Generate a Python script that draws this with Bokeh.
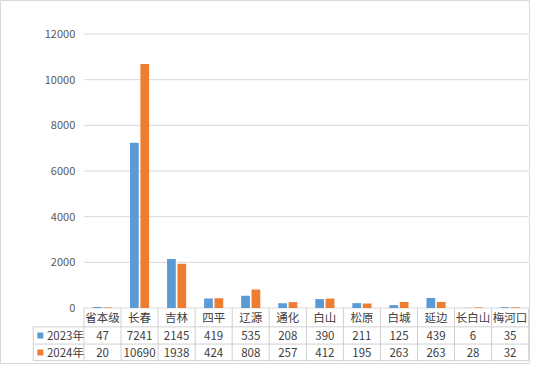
from bokeh.plotting import figure
from bokeh.models import Range1d
from bokeh.core.properties import value
from bokeh.embed import file_html
from bokeh.resources import INLINE

categories = ["省本级", "长春", "吉林", "四平", "辽源", "通化", "白山", "松原", "白城", "延边", "长白山", "梅河口"]
values_2023 = [47, 7241, 2145, 419, 535, 208, 390, 211, 125, 439, 6, 35]
values_2024 = [20, 10690, 1938, 424, 808, 257, 412, 195, 263, 263, 28, 32]
series_names = ["2023年", "2024年"]
y_ticks = [0, 2000, 4000, 6000, 8000, 10000, 12000]

BLUE = "#5B9BD5"
ORANGE = "#ED7D31"
GRID = "#D9D9D9"
TABLE_LINE = "#D0D0D0"
TXT = "#404040"
AXT = "#595959"
FONT = value("Noto Sans CJK SC")

n = len(categories)
xs = [i + 0.5 for i in range(n)]

# table geometry (data units)
row_top = 0
row1_bottom = -827
row2_bottom = -1582
row3_bottom = -2308
row1_c = (row_top + row1_bottom) / 2
row2_c = (row1_bottom + row2_bottom) / 2
row3_c = (row2_bottom + row3_bottom) / 2
legend_left = -1.37

p = figure(width=530, height=364, output_backend="svg", toolbar_location=None,
           x_range=Range1d(-2.253, 12.05), y_range=Range1d(-2476, 13469),
           x_axis_type=None, y_axis_type=None, min_border=0,
           outline_line_color=GRID, background_fill_color="white",
           border_fill_color="white")

# gridlines
p.segment(x0=[0] * len(y_ticks), x1=[n] * len(y_ticks), y0=y_ticks, y1=y_ticks,
          line_color=GRID, line_width=1)

# y tick labels
p.text(x=[-0.236] * len(y_ticks), y=y_ticks, text=[str(t) for t in y_ticks],
       text_align="right", text_baseline="middle", text_color=AXT,
       text_font=FONT, text_font_size="10.5pt" if False else "11px")

# bars
bw = 0.236
p.vbar(x=[x - 0.14 for x in xs], top=values_2023, bottom=0, width=bw,
       fill_color=BLUE, line_color=None)
p.vbar(x=[x + 0.14 for x in xs], top=values_2024, bottom=0, width=bw,
       fill_color=ORANGE, line_color=None)

# table horizontal lines
p.segment(x0=[legend_left, legend_left, legend_left], x1=[n, n, n],
          y0=[row1_bottom, row2_bottom, row3_bottom],
          y1=[row1_bottom, row2_bottom, row3_bottom],
          line_color=TABLE_LINE, line_width=1)
# table vertical lines
p.segment(x0=list(range(n + 1)), x1=list(range(n + 1)),
          y0=[row_top] * (n + 1), y1=[row3_bottom] * (n + 1),
          line_color=TABLE_LINE, line_width=1)
p.segment(x0=[legend_left], x1=[legend_left], y0=[row1_bottom], y1=[row3_bottom],
          line_color=TABLE_LINE, line_width=1)

# category labels
p.text(x=xs, y=[row1_c] * n, text=categories, text_align="center",
       text_baseline="middle", text_color=TXT, text_font=FONT,
       text_font_size="11.5px")
# values
p.text(x=xs, y=[row2_c] * n, text=[str(v) for v in values_2023], text_align="center",
       text_baseline="middle", text_color=TXT, text_font=FONT,
       text_font_size="11.5px")
p.text(x=xs, y=[row3_c] * n, text=[str(v) for v in values_2024], text_align="center",
       text_baseline="middle", text_color=TXT, text_font=FONT,
       text_font_size="11.5px")

# legend keys
p.rect(x=[-1.179, -1.179], y=[row2_c, row3_c], width=6, height=6,
       width_units="screen", height_units="screen",
       fill_color=[BLUE, ORANGE], line_color=None)
p.text(x=[-1.0, -1.0], y=[row2_c, row3_c], text=series_names,
       text_align="left", text_baseline="middle", text_color=TXT,
       text_font=FONT, text_font_size="11.5px")

open("out.html", "w").write(file_html(p, INLINE))
